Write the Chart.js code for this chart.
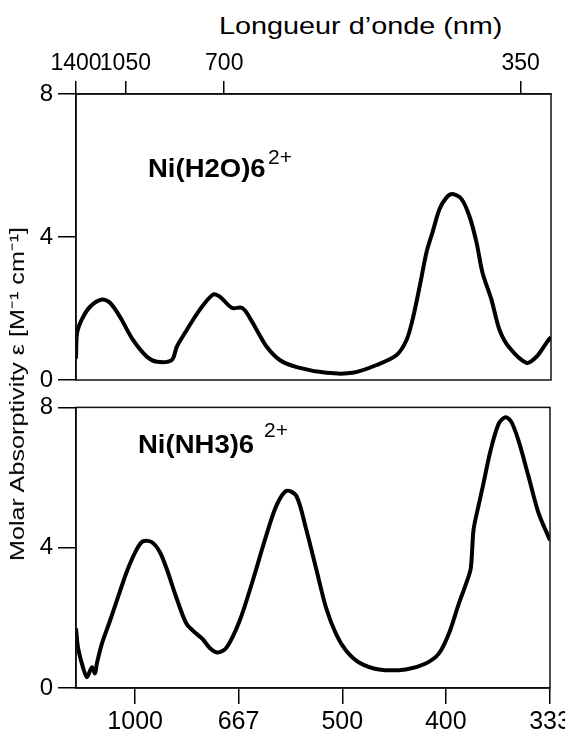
<!DOCTYPE html>
<html lang="fr">
<head>
<meta charset="UTF-8">
<title>Ni(H2O)6 2+ / Ni(NH3)6 2+</title>
<script src="https://cdn.jsdelivr.net/npm/chart.js"></script>
<style>
  body { margin: 0; background: #fff; width: 565px; height: 731px; position: relative; overflow: hidden;
         font-family: "Liberation Sans", Arial, sans-serif; }
  canvas { position: absolute; left: 0; }
  .txt { position: absolute; white-space: nowrap; color: #000; line-height: 1; }
</style>
</head>
<body>
<div class="txt" style="left:219px; top:14px; font-size:24px; transform:scaleX(1.2); transform-origin:left;">Longueur d’onde (nm)</div>
<canvas id="topChart" width="565" height="400" style="top:0"></canvas>
<canvas id="bottomChart" width="565" height="343" style="top:388px"></canvas>
<div class="txt" style="left:17px; top:394px; font-size:20px; transform:translate(-50%,-50%) rotate(-90deg) scaleX(1.26);">Molar Absorptivity ε [M⁻¹ cm⁻¹]</div>
<div class="txt" style="left:148px; top:156px; font-size:25px; font-weight:bold; transform:scaleX(1.1); transform-origin:left;">Ni(H2O)6</div>
<div class="txt" style="left:268px; top:146px; font-size:21px;">2+</div>
<div class="txt" style="left:138px; top:432px; font-size:25px; font-weight:bold; transform:scaleX(1.1); transform-origin:left;">Ni(NH3)6</div>
<div class="txt" style="left:264px; top:419px; font-size:21px;">2+</div>

<script>
// tick labels (nm); the x axis itself is linear in wavenumber (cm-1)
const topNm = [1400, 1050, 700, 350];
const bottomNm = [1000, 667, 500, 400, 333];
const yTicks = [0, 4, 8];

// Ni(H2O)6 2+ : wavenumber (cm-1) / epsilon
const h2oWavenumber = [7143, 7190, 7430, 7820, 8390, 8780, 9260, 9890, 10560, 11040, 11760, 12000,
  12480, 13110, 13740, 14070, 14650, 15130, 15370, 15850, 16330, 16960, 17780, 19220, 20470, 21630,
  22590, 23070, 23360, 23700, 24030, 24320, 24660, 25000, 25290, 25720, 26100, 26440, 26730, 27160,
  27550, 28030, 28850, 29330, 29810, 30030];
const h2oEpsilon = [0.6, 1.3, 1.7, 2.05, 2.25, 2.16, 1.77, 1.12, 0.65, 0.51, 0.56, 0.93,
  1.4, 1.97, 2.39, 2.33, 2.02, 2.02, 1.88, 1.4, 0.93, 0.56, 0.36, 0.2, 0.2, 0.42,
  0.7, 1.12, 1.69, 2.61, 3.57, 4.13, 4.78, 5.11, 5.2, 5.06, 4.58, 3.85, 3.0, 2.25,
  1.4, 0.9, 0.48, 0.65, 1.04, 1.2];

// Ni(NH3)6 2+
const nh3Wavenumber = [7143, 7240, 7480, 7670, 7910, 8060, 8150, 8390, 8780, 9260, 9650, 10080,
  10370, 10800, 11190, 11520, 12000, 12480, 12970, 13250, 13590, 13980, 14410, 15040, 15660, 16330,
  16820, 17300, 17780, 18260, 18740, 19220, 19700, 20180, 20810, 21770, 23070, 24030, 24660, 25140,
  25620, 25960, 26200, 26340, 26580, 26820, 27160, 27550, 27880, 28170, 28510, 28990, 29470, 30030];
const nh3Epsilon = [1.7, 1.15, 0.59, 0.31, 0.59, 0.42, 0.7, 1.26, 1.91, 2.75, 3.4, 3.96,
  4.18, 4.16, 3.88, 3.4, 2.56, 1.83, 1.54, 1.4, 1.15, 1.01, 1.15, 1.91, 3.03, 4.35,
  5.2, 5.62, 5.48, 4.52, 3.4, 2.28, 1.54, 1.07, 0.73, 0.53, 0.53, 0.7, 0.98, 1.54,
  2.39, 2.95, 3.4, 4.52, 5.2, 5.84, 6.77, 7.53, 7.72, 7.58, 7.05, 6.04, 5.0, 4.21];

const X_MIN = 1e7 / 1400;
const X_MAX = 1e7 / 333;

const frame = {
  id: 'frame',
  afterDraw(chart) {
    const { ctx, chartArea: a } = chart;
    ctx.save();
    ctx.strokeStyle = '#111';
    ctx.lineWidth = 1.5;
    ctx.strokeRect(a.left, a.top, a.right - a.left, a.bottom - a.top);
    ctx.restore();
  }
};

function yScale() {
  return {
    min: 0, max: 8,
    afterBuildTicks: s => { s.ticks = yTicks.map(v => ({ value: v })); },
    afterFit: s => { s.width = 76; },
    ticks: { color: '#000', padding: 5, font: { family: "'Liberation Sans', Arial", size: 24 } },
    grid: { drawOnChartArea: false, tickLength: 18, color: '#000', lineWidth: 1.5 },
    border: { color: '#000', width: 1.5 }
  };
}

function xScale(position, nmList, height, fontSize, tickLength, pad) {
  return {
    type: 'linear', position: position, min: X_MIN, max: X_MAX,
    afterBuildTicks: s => { s.ticks = nmList.map(nm => ({ value: 1e7 / nm })); },
    afterFit: s => { s.height = height; s.paddingLeft = 0; s.paddingRight = 0; },
    ticks: {
      autoSkip: false, maxRotation: 0, color: '#000', padding: pad,
      font: { family: "'Liberation Sans', Arial", size: fontSize },
      callback: (v, i) => String(nmList[i])
    },
    grid: { drawOnChartArea: false, tickLength: tickLength, color: '#000', lineWidth: 1.5 },
    border: { color: '#000', width: 1.5 }
  };
}

function makeChart(id, xs, ys, xOpts, padding) {
  return new Chart(document.getElementById(id), {
    type: 'line',
    data: {
      datasets: [{
        data: xs.map((x, i) => ({ x: x, y: ys[i] })),
        borderColor: '#000', borderWidth: 4, pointRadius: 0, tension: 0.3, fill: false
      }]
    },
    options: {
      responsive: false, animation: false,
      layout: { padding: padding },
      plugins: { legend: { display: false }, tooltip: { enabled: false } },
      scales: { x: xOpts, y: yScale() }
    },
    plugins: [frame]
  });
}

makeChart('topChart', h2oWavenumber, h2oEpsilon,
  xScale('top', topNm, 94, 23, 13, 4),
  { top: 0, right: 14, bottom: 20, left: 0 });

makeChart('bottomChart', nh3Wavenumber, nh3Epsilon,
  xScale('bottom', bottomNm, 43, 25, 16, 3),
  { top: 15, right: 15, bottom: 0, left: 0 });
</script>
</body>
</html>
